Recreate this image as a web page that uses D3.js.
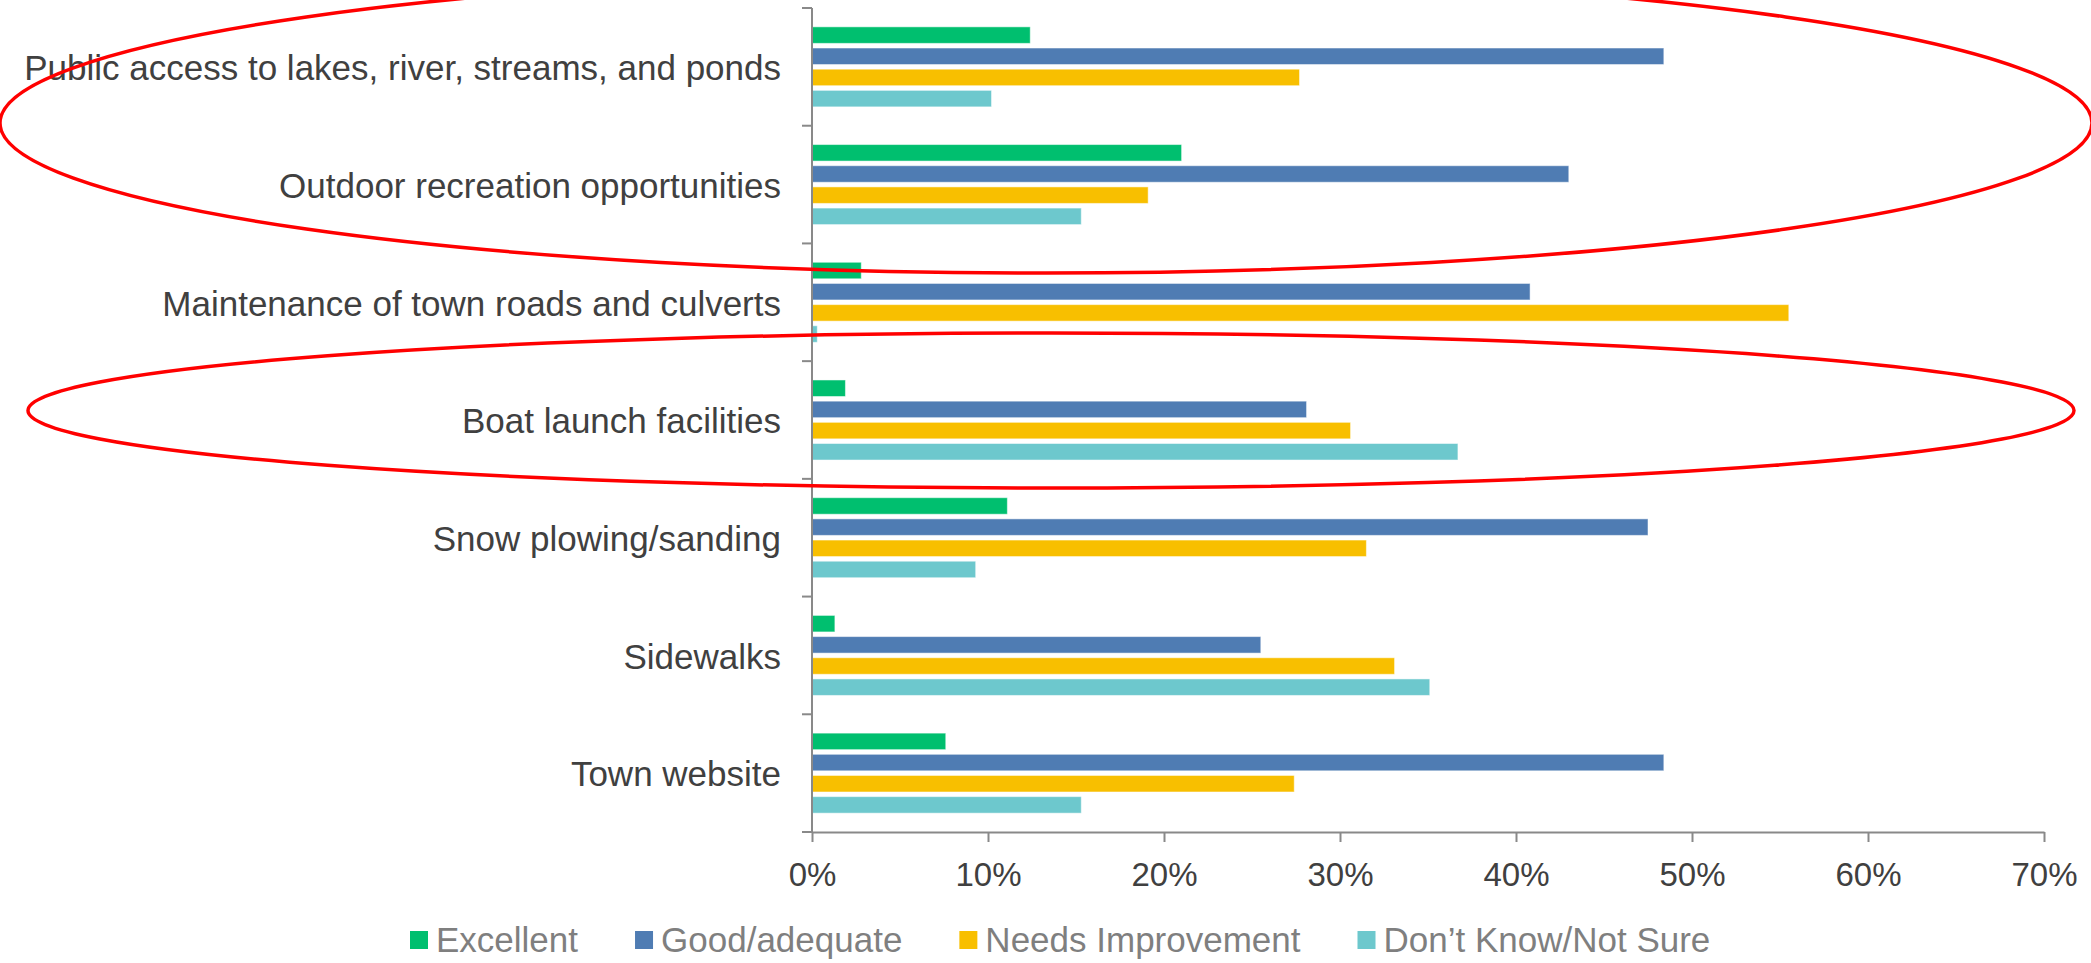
<!DOCTYPE html>
<html>
<head>
<meta charset="utf-8">
<script src="https://cdn.jsdelivr.net/npm/d3@7"></script>
<style>
  body { margin: 0; background: #fff; }
  svg text { font-family: "Liberation Sans", Arial, sans-serif; }
</style>
</head>
<body>
<script>
// chart data
var categories = [
  "Public access to lakes, river, streams, and ponds",
  "Outdoor recreation opportunities",
  "Maintenance of town roads and culverts",
  "Boat launch facilities",
  "Snow plowing/sanding",
  "Sidewalks",
  "Town website"
];
var seriesNames = ["Excellent", "Good/adequate", "Needs Improvement", "Don\u2019t Know/Not Sure"];
var excellent   = [12.4, 21.0,  2.8,  1.9, 11.1,  1.3,  7.6];
var good        = [48.4, 43.0, 40.8, 28.1, 47.5, 25.5, 48.4];
var needsImprov = [27.7, 19.1, 55.5, 30.6, 31.5, 33.1, 27.4];
var dontKnow    = [10.2, 15.3,  0.3, 36.7,  9.3, 35.1, 15.3];
var xTicks = [0, 10, 20, 30, 40, 50, 60, 70];
var colors = ["#00bf6f", "#4f7cb3", "#f8bf00", "#6dc8cd"];

// red annotation ellipses drawn over the chart
var highlights = [
  { cx: 1046, cy: 123, rx: 1046, ry: 150 },
  { cx: 1051, cy: 410.5, rx: 1023, ry: 77.5 }
];

var W = 2091, H = 963;
var margin = { left: 812, right: 47, top: 8, bottom: 131 };

var svg = d3.select("body").append("svg")
  .attr("width", W)
  .attr("height", H);

var x = d3.scaleLinear().domain([0, 70]).range([margin.left, W - margin.right]);
var y0 = d3.scaleBand().domain(categories).range([margin.top, H - margin.bottom]);
var y1 = d3.scaleBand().domain(seriesNames).range([0, y0.bandwidth()])
  .paddingInner(0.22).paddingOuter(0.89);

var allSeries = [excellent, good, needsImprov, dontKnow];
var rows = categories.map(function(c, i) {
  return { cat: c, vals: seriesNames.map(function(s, j) { return { name: s, v: allSeries[j][i], k: j }; }) };
});

// bars
var groups = svg.append("g").selectAll("g")
  .data(rows)
  .enter().append("g")
  .attr("transform", function(d) { return "translate(0," + y0(d.cat) + ")"; });

groups.selectAll("rect")
  .data(function(d) { return d.vals; })
  .enter().append("rect")
  .attr("x", x(0))
  .attr("y", function(d) { return y1(d.name); })
  .attr("width", function(d) { return x(d.v) - x(0); })
  .attr("height", y1.bandwidth())
  .attr("fill", function(d) { return colors[d.k]; })
  .attr("stroke", "rgba(255,255,255,0.5)")
  .attr("stroke-width", 1);

// x axis
var xAxis = svg.append("g")
  .attr("transform", "translate(0," + (H - margin.bottom) + ")")
  .call(d3.axisBottom(x).tickValues(xTicks).tickSize(10).tickSizeOuter(0)
    .tickFormat(function(d) { return d + "%"; }));
xAxis.select(".domain").attr("stroke", "#898989").attr("stroke-width", 2);
xAxis.selectAll(".tick line").attr("stroke", "#898989").attr("stroke-width", 2);
xAxis.selectAll(".tick text")
  .attr("y", 42).attr("dy", "0.35em")
  .attr("fill", "#404040").style("font-size", "33px");

// y axis: line plus ticks at the category boundaries
var yAxis = svg.append("g");
yAxis.append("line")
  .attr("x1", x(0)).attr("x2", x(0))
  .attr("y1", margin.top).attr("y2", H - margin.bottom)
  .attr("stroke", "#898989").attr("stroke-width", 2);
var bounds = categories.map(function(c) { return y0(c); }).concat([H - margin.bottom]);
yAxis.selectAll(".bt")
  .data(bounds)
  .enter().append("line")
  .attr("x1", x(0) - 10).attr("x2", x(0))
  .attr("y1", function(d) { return d; }).attr("y2", function(d) { return d; })
  .attr("stroke", "#898989").attr("stroke-width", 2);
yAxis.selectAll("text")
  .data(categories)
  .enter().append("text")
  .attr("x", x(0) - 31)
  .attr("y", function(d) { return y0(d) + y0.bandwidth() / 2 + 1; })
  .attr("dy", "0.35em")
  .attr("text-anchor", "end")
  .attr("fill", "#404040")
  .style("font-size", "35px")
  .text(function(d) { return d; });

// legend
var legend = svg.append("g").attr("transform", "translate(410,940)");
var lx = 0;
seriesNames.forEach(function(s, i) {
  legend.append("rect")
    .attr("x", lx).attr("y", -9)
    .attr("width", 18).attr("height", 18)
    .attr("fill", colors[i]);
  var t = legend.append("text")
    .attr("x", lx + 26).attr("y", 0)
    .attr("dy", "0.35em")
    .attr("fill", "#7f7f7f")
    .style("font-size", "35px")
    .text(s);
  lx += 26 + t.node().getComputedTextLength() + 57;
});

// red ellipses
svg.append("g").selectAll("ellipse")
  .data(highlights)
  .enter().append("ellipse")
  .attr("cx", function(d) { return d.cx; })
  .attr("cy", function(d) { return d.cy; })
  .attr("rx", function(d) { return d.rx; })
  .attr("ry", function(d) { return d.ry; })
  .attr("fill", "none")
  .attr("stroke", "#ff0000")
  .attr("stroke-width", 3.5);
</script>
</body>
</html>
